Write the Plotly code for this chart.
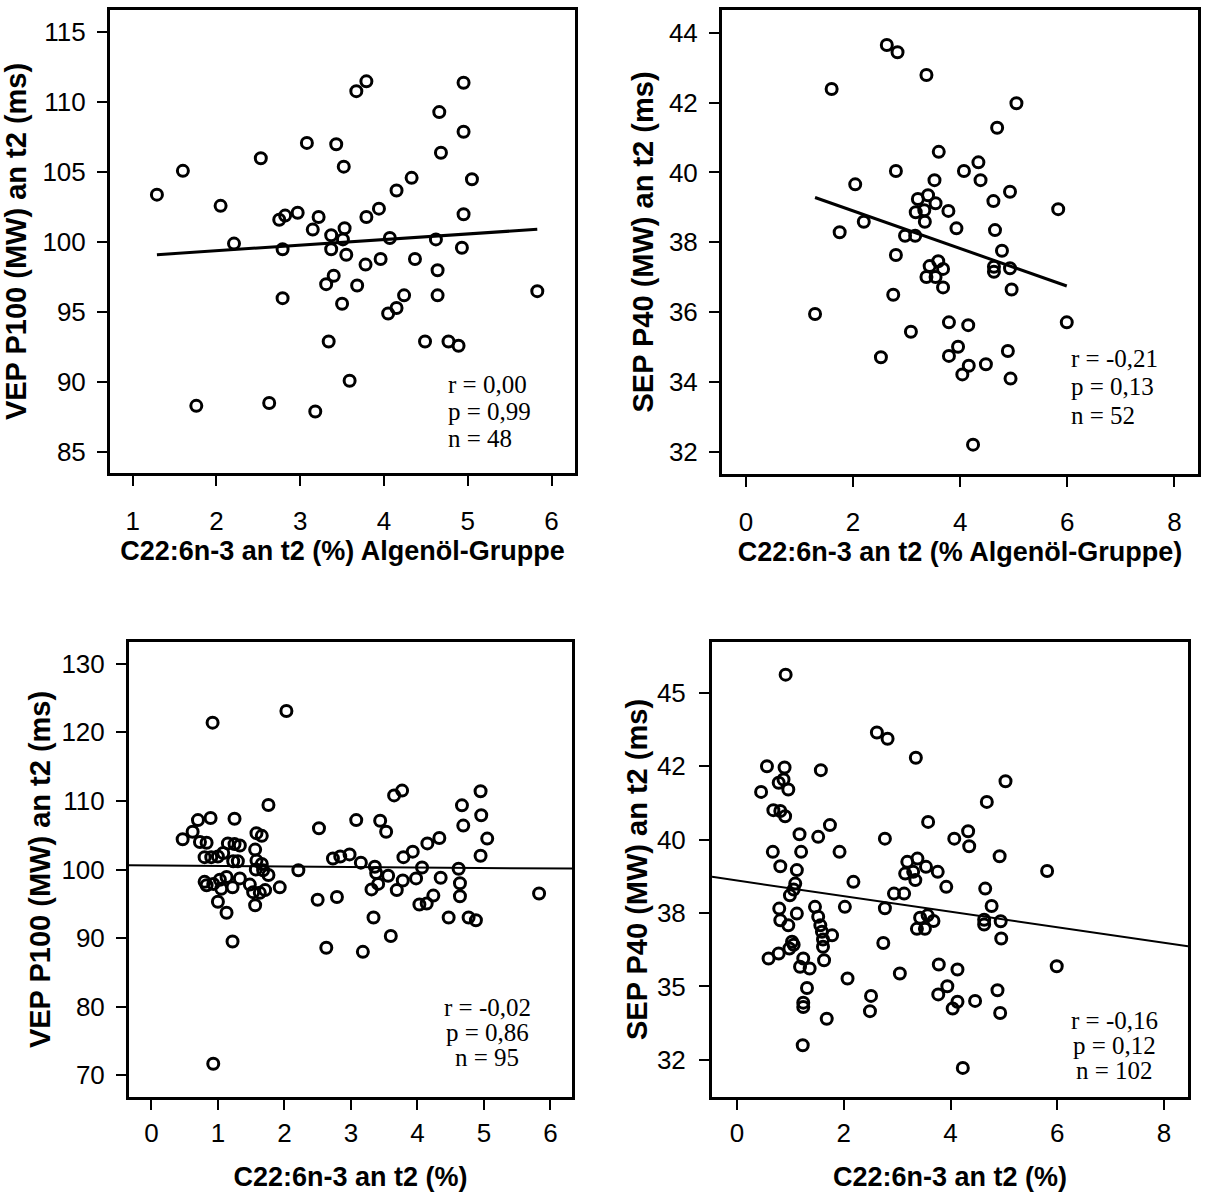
import plotly.graph_objects as go

# ---------------------------------------------------------------
# Algenöl-Gruppe: DHA (C22:6n-3, % an t2) vs. VEP P100 latency (ms)
# ---------------------------------------------------------------
vep_alg_dha = [1.29, 1.60, 1.76, 2.05, 2.21, 2.53, 2.63, 2.75, 2.82, 2.79,
               2.79, 2.97, 3.08, 3.18, 3.15, 3.22, 3.37, 3.37, 3.40, 3.31,
               3.50, 3.34, 3.43, 3.52, 3.55, 3.59, 3.53, 3.51, 3.67, 3.79,
               4.95, 4.66, 4.95, 4.68, 5.05, 4.33, 4.15, 3.94, 3.79, 4.95,
               4.07, 4.62, 4.93, 3.78, 3.96, 4.37, 4.64, 3.68, 4.24, 4.15,
               4.05, 4.64, 5.83, 4.49, 4.77, 4.89]
vep_alg_ms = [103.4, 105.1, 88.3, 102.6, 99.9, 106.0, 88.5, 101.6, 101.9, 99.5,
              96.0, 102.1, 107.1, 87.9, 100.9, 101.8, 100.5, 99.5, 97.6, 97.0,
              95.6, 92.9, 107.0, 105.4, 99.1, 90.1, 101.0, 100.2, 110.8, 111.5,
              111.4, 109.3, 107.9, 106.4, 104.5, 104.6, 103.7, 102.4, 101.8, 102.0,
              100.3, 100.2, 99.6, 98.4, 98.8, 98.8, 98.0, 96.9, 96.2, 95.3,
              94.9, 96.2, 96.5, 92.9, 92.9, 92.6]
vep_alg_fit = (98.59, 0.40)  # intercept, slope
vep_alg_stats = ["r = 0,00", "p = 0,99", "n = 48"]

# ---------------------------------------------------------------
# Algenöl-Gruppe: DHA vs. SEP P40 latency (ms)
# ---------------------------------------------------------------
sep_alg_dha = [2.63, 2.83, 3.37, 1.60, 3.60, 2.80, 2.04, 3.52, 3.21, 3.40,
               3.54, 3.17, 3.33, 3.34, 3.78, 3.93, 2.20, 1.75, 2.97, 3.16,
               2.80, 3.59, 3.43, 3.68, 3.37, 3.54, 3.68, 2.75, 1.29, 3.79,
               3.08, 2.52, 3.79, 5.05, 4.69, 4.34, 4.07, 4.38, 4.93, 4.62,
               5.83, 4.65, 4.78, 4.63, 4.63, 4.93, 4.96, 5.99, 4.15, 3.96,
               4.16, 4.04, 4.48, 4.89, 4.94, 4.24]
sep_alg_ms = [43.65, 43.44, 42.79, 42.39, 40.59, 40.04, 39.66, 39.78, 39.24, 39.35,
              39.12, 38.86, 38.92, 38.59, 38.90, 38.40, 38.59, 38.29, 38.19, 38.19,
              37.64, 37.46, 37.32, 37.24, 37.01, 37.01, 36.71, 36.50, 35.95, 35.71,
              35.44, 34.71, 34.75, 41.98, 41.28, 40.29, 40.04, 39.78, 39.45, 39.18,
              38.95, 38.35, 37.76, 37.30, 37.16, 37.26, 36.65, 35.71, 35.63, 35.01,
              34.47, 34.22, 34.51, 34.89, 34.10, 32.21]
sep_alg_fit = (39.98, -0.539)
sep_alg_stats = ["r = -0,21", "p = 0,13", "n = 52"]

# ---------------------------------------------------------------
# Gesamtkollektiv: DHA vs. VEP P100 latency (ms)
# ---------------------------------------------------------------
vep_all_dha = [0.92, 2.03, 1.76, 0.70, 0.89, 1.25, 0.62, 0.47, 1.58, 1.66,
               0.73, 0.83, 1.15, 1.25, 1.33, 1.56, 1.08, 0.80, 0.90, 1.00,
               1.23, 1.30, 1.58, 1.66, 1.57, 1.68, 1.76, 0.80, 0.83, 0.93,
               1.03, 1.13, 1.05, 1.22, 1.33, 1.48, 1.53, 1.63, 1.71, 1.93,
               1.00, 1.13, 1.56, 1.22, 0.93, 2.21,
               2.52, 2.50, 2.63, 2.73, 2.79, 2.84, 2.98,
               3.77, 3.65, 4.95, 4.67, 4.96, 4.69, 5.05, 3.08, 3.44, 3.53,
               4.33, 4.15, 3.93, 3.79, 4.95, 3.15, 3.36, 3.38, 3.56, 3.41,
               3.31, 3.69, 3.78, 3.98, 4.07, 4.35, 4.03, 4.14, 4.24, 4.62,
               4.64, 4.64, 4.47, 4.77, 4.88, 3.34, 3.60, 3.18, 5.83]
vep_all_ms = [121.4, 123.1, 109.4, 107.2, 107.5, 107.4, 105.5, 104.4, 105.3, 104.9,
              104.0, 103.9, 103.8, 103.7, 103.5, 102.9, 102.4, 101.8, 101.8, 101.9,
              101.2, 101.2, 101.3, 100.8, 100.0, 99.9, 99.2, 98.2, 97.7, 97.9,
              98.5, 98.9, 97.2, 97.4, 98.7, 97.8, 96.7, 96.6, 97.0, 97.4,
              95.3, 93.7, 94.8, 89.5, 71.7, 99.9,
              106.0, 95.6, 88.6, 101.6, 96.0, 101.9, 102.2,
              111.5, 110.8, 111.4, 109.35, 107.9, 106.4, 104.5, 107.2, 107.1, 105.5,
              104.6, 103.8, 102.6, 101.8, 102.0, 101.0, 100.4, 99.5, 99.1, 97.9,
              97.1, 97.0, 98.4, 98.7, 100.3, 98.8, 94.9, 95.05, 96.2, 100.1,
              98.0, 96.1, 93.0, 93.0, 92.6, 93.0, 90.3, 88.0, 96.5]
vep_all_fit = (100.585, -0.072)
vep_all_stats = ["r = -0,02", "p = 0,86", "n = 95"]

# ---------------------------------------------------------------
# Gesamtkollektiv: DHA vs. SEP P40 latency (ms)
# ---------------------------------------------------------------
sep_all_dha = [0.91, 0.56, 0.89, 1.57, 0.78, 0.87, 0.96, 0.45, 0.68, 0.81,
               0.90, 1.74, 1.17, 1.52, 0.67, 1.20, 1.92, 0.81, 1.12, 2.18,
               1.09, 1.06, 0.99, 0.79, 1.12, 1.46, 2.02, 0.81, 0.96, 1.52,
               1.56, 1.59, 1.78, 1.61, 1.61, 1.03, 1.06, 0.98, 0.78, 0.59,
               1.24, 1.18, 1.36, 1.63, 2.07, 1.31, 1.24, 1.24, 1.68, 1.23,
               2.62, 2.82, 3.35, 3.58, 2.77, 3.19, 3.38, 3.54, 3.76, 3.92,
               3.15, 3.30, 3.34, 2.94, 3.13, 2.77, 3.43, 3.57, 3.68, 3.37,
               3.52, 2.74, 3.78, 3.05, 2.51, 2.49, 3.77,
               5.03, 4.68, 4.33, 4.07, 4.35, 4.92, 5.81, 4.65, 4.77, 4.63,
               4.63, 4.94, 4.95, 5.99, 4.13, 3.94, 4.13, 4.04, 4.46, 4.88,
               4.93, 4.23]
sep_all_ms = [45.61, 42.49, 42.45, 42.36, 41.93, 42.04, 41.70, 41.62, 41.00, 40.97,
              40.79, 40.49, 40.18, 40.09, 39.58, 39.58, 39.58, 39.09, 38.96, 38.56,
              38.50, 38.30, 38.10, 37.65, 37.48, 37.71, 37.71, 37.25, 37.08, 37.37,
              37.08, 36.86, 36.74, 36.60, 36.35, 36.52, 36.42, 36.29, 36.12, 35.95,
              35.95, 35.67, 35.61, 35.89, 35.27, 34.95, 34.45, 34.30, 33.90, 33.00,
              43.64, 43.43, 42.78, 40.60, 40.03, 39.24, 39.35, 39.07, 38.90, 38.39,
              38.84, 38.90, 38.62, 38.16, 38.16, 37.66, 37.34, 37.42, 37.23, 36.96,
              36.96, 36.48, 35.75, 35.44, 34.68, 34.16, 34.73,
              41.98, 41.28, 40.28, 40.03, 39.77, 39.43, 38.93, 38.33, 37.74, 37.27,
              37.11, 37.22, 36.63, 35.69, 35.58, 35.01, 34.48, 34.25, 34.51, 34.87,
              34.10, 32.23]
sep_all_fit = (38.605, -0.265)
sep_all_stats = ["r = -0,16", "p = 0,12", "n = 102"]

# Axis ticks
vep_alg_xticks = [1, 2, 3, 4, 5, 6]
vep_alg_yticks = [85, 90, 95, 100, 105, 110, 115]
sep_alg_xticks = [0, 2, 4, 6, 8]
sep_alg_yticks = [32, 34, 36, 38, 40, 42, 44]
vep_all_xticks = [0, 1, 2, 3, 4, 5, 6]
vep_all_yticks = [70, 80, 90, 100, 110, 120, 130]
sep_all_xticks = [0, 2, 4, 6, 8]
sep_all_yticks = [32.5, 35, 37.5, 40, 42.5, 45]
sep_all_yticklabels = ["32", "35", "38", "40", "42", "45"]

# Axis titles
x_titles = ["C22:6n-3 an t2 (%) Algenöl-Gruppe",
            "C22:6n-3 an t2 (% Algenöl-Gruppe)",
            "C22:6n-3 an t2 (%)",
            "C22:6n-3 an t2 (%)"]
y_titles = ["VEP P100 (MW) an t2 (ms)",
            "SEP P40 (MW) an t2 (ms)",
            "VEP P100 (MW) an t2 (ms)",
            "SEP P40 (MW) an t2 (ms)"]

W, H = 1207, 1204
SANS = "Liberation Sans, Arial, sans-serif"
SERIF = "Liberation Serif, Times New Roman, serif"
TICK_SIZE = 26
XTITLE_SIZE = 27
YTITLE_SIZE = 29
STAT_SIZE = 25

# Panel layout in pixels: (left, right, top, bottom), axis ranges, spacing
panels = [
    dict(box=(110, 575, 10, 473), xr=(0.73, 6.28), yr=(83.5, 116.6),
         x=vep_alg_dha, y=vep_alg_ms, fit=vep_alg_fit, fit_span="data",
         xt=vep_alg_xticks, yt=vep_alg_yticks, ytl=None, stats=vep_alg_stats,
         stat_pos=(446, 384), stat_align="left", stat_step=27, lw=3,
         xlab_off=13, xtit_off=4, ylab_off=6, ytit_off=8),
    dict(box=(722, 1198, 10, 474), xr=(-0.447, 8.44), yr=(31.37, 44.65),
         x=sep_alg_dha, y=sep_alg_ms, fit=sep_alg_fit, fit_span="data",
         xt=sep_alg_xticks, yt=sep_alg_yticks, ytl=None, stats=sep_alg_stats,
         stat_pos=(1069, 359), stat_align="left", stat_step=28, lw=3,
         xlab_off=13, xtit_off=4, ylab_off=6, ytit_off=7),
    dict(box=(129, 572, 642, 1097), xr=(-0.337, 6.325), yr=(66.85, 133.15),
         x=vep_all_dha, y=vep_all_ms, fit=vep_all_fit, fit_span="axis",
         xt=vep_all_xticks, yt=vep_all_yticks, ytl=None, stats=vep_all_stats,
         stat_pos=(487, 1007), stat_align="center", stat_step=25, lw=2,
         xlab_off=1, xtit_off=20, ylab_off=6, ytit_off=3),
    dict(box=(712, 1188, 642, 1097), xr=(-0.47, 8.45), yr=(31.24, 46.72),
         x=sep_all_dha, y=sep_all_ms, fit=sep_all_fit, fit_span="axis",
         xt=sep_all_xticks, yt=sep_all_yticks, ytl=sep_all_yticklabels,
         stats=sep_all_stats, stat_pos=(1114, 1020), stat_align="center",
         stat_step=25, lw=2,
         xlab_off=1, xtit_off=20, ylab_off=8, ytit_off=1),
]

fig = go.Figure()
annotations = []

for i, p in enumerate(panels, start=1):
    sfx = "" if i == 1 else str(i)
    xa, ya = "x" + sfx, "y" + sfx
    left, right, top, bottom = p["box"]

    fig.add_trace(go.Scatter(
        x=p["x"], y=p["y"], mode="markers", xaxis=xa, yaxis=ya,
        marker=dict(symbol="circle-open", size=11, color="black",
                    line=dict(width=3, color="black")),
        showlegend=False, hoverinfo="x+y"))

    # straight regression line from intercept and slope
    b0, b1 = p["fit"]
    if p["fit_span"] == "data":
        x0, x1 = min(p["x"]), max(p["x"])
    else:
        x0, x1 = p["xr"]
    fig.add_trace(go.Scatter(
        x=[x0, x1], y=[b0 + b1 * x0, b0 + b1 * x1], mode="lines",
        xaxis=xa, yaxis=ya, line=dict(color="black", width=p["lw"]),
        showlegend=False, hoverinfo="skip"))

    axis_common = dict(showline=True, mirror=True, linecolor="black",
                       linewidth=3, showgrid=False, zeroline=False,
                       ticks="outside", ticklen=10, tickwidth=2,
                       tickcolor="black",
                       tickfont=dict(family=SANS, size=TICK_SIZE,
                                     color="black"))
    fig.update_layout(**{
        ("xaxis" + sfx): dict(
            domain=[left / W, right / W], range=list(p["xr"]), anchor=ya,
            tickmode="array", tickvals=p["xt"],
            ticklabelstandoff=p["xlab_off"],
            title=dict(text="<b>%s</b>" % x_titles[i - 1],
                       standoff=p["xtit_off"],
                       font=dict(family=SANS, size=XTITLE_SIZE,
                                 color="black")),
            **axis_common),
        ("yaxis" + sfx): dict(
            domain=[1 - bottom / H, 1 - top / H], range=list(p["yr"]),
            anchor=xa, tickmode="array", tickvals=p["yt"],
            ticktext=p["ytl"] if p["ytl"] else [str(v) for v in p["yt"]],
            ticklabelstandoff=p["ylab_off"],
            title=dict(text="<b>%s</b>" % y_titles[i - 1],
                       standoff=p["ytit_off"],
                       font=dict(family=SANS, size=YTITLE_SIZE,
                                 color="black")),
            **axis_common),
    })

    sx, sy = p["stat_pos"]
    for k, line in enumerate(p["stats"]):
        annotations.append(dict(
            xref="paper", yref="paper", x=sx / W,
            y=1 - (sy + k * p["stat_step"]) / H,
            xanchor=p["stat_align"], yanchor="middle", showarrow=False,
            text=line, font=dict(family=SERIF, size=STAT_SIZE,
                                 color="black")))

fig.update_layout(
    width=W, height=H, margin=dict(l=0, r=0, t=0, b=0),
    paper_bgcolor="white", plot_bgcolor="white",
    annotations=annotations)

fig.write_html("out.html")
